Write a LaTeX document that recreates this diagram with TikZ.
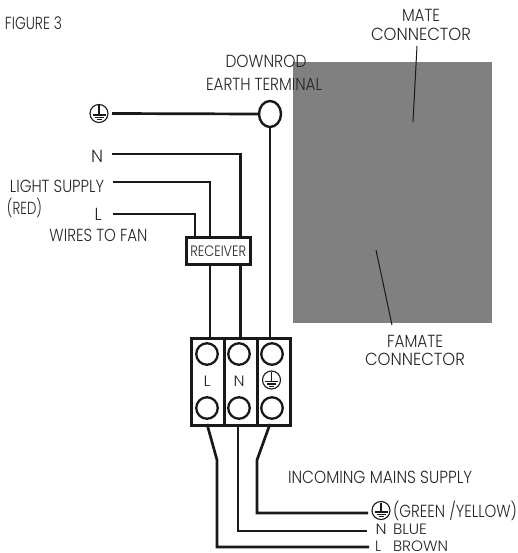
\documentclass[tikz,border=0pt]{standalone}
\usepackage{graphicx}
\usepackage{fontspec}
\usetikzlibrary{shapes.geometric}
\setmainfont{Poppins}[UprightFont=* Light]
\newcommand{\fw}[2]{\resizebox{#1pt}{\height}{#2}}
\tikzset{
  lbl/.style={inner sep=0pt,text=black!85,font=\fontsize{17.5}{18}\selectfont},
  lblsm/.style={inner sep=0pt,text=black!85,font=\fontsize{15}{16}\selectfont},
  wire/.style={line width=2.7pt,black!90,line join=miter},
  leader/.style={line width=1pt,black!90},
  termbox/.style={draw=black!90,line width=2.6pt,inner sep=0pt,anchor=north west},
  screw/.style={circle,draw=black!90,line width=2.3pt,minimum size=21.5pt,inner sep=0pt},
  earthsym/.style={circle,draw=black!90,line width=1.1pt,minimum size=18pt,inner sep=0pt,
    path picture={
      \coordinate (ec) at (path picture bounding box.center);
      \draw[line width=1.1pt,black!90] ([shift={(0,-8)}]ec) -- ([shift={(0,2)}]ec);
      \draw[line width=1.2pt,black!90] ([shift={(-6.5,1.5)}]ec) -- ([shift={(6.5,1.5)}]ec);
      \draw[line width=1.2pt,black!90] ([shift={(-4.5,4)}]ec) -- ([shift={(4.5,4)}]ec);
      \draw[line width=1.2pt,black!90] ([shift={(-2.5,6.3)}]ec) -- ([shift={(2.5,6.3)}]ec);
    }},
}
\begin{document}
\begin{tikzpicture}[x=1pt,y=-1pt]
\useasboundingbox (0,0) rectangle (518,553);
% grey panel
\fill[fill=black!50] (293,62) rectangle (492,323);
% leaders
\coordinate (mateA) at (417,46);
\coordinate (mateB) at (413,122);
\coordinate (famA) at (376,250);
\coordinate (famB) at (392,325);
\draw[leader] (mateA) -- (mateB);
\draw[leader] (famA) -- (famB);
% texts
\node[lbl] (fig) at (33.5,23) {\fw{57}{FIGURE 3}};
\node[lbl] (mate) at (421,15) {\fw{38}{MATE}};
\node[lbl] (mateb) at (421,34) {\fw{100}{CONNECTOR}};
\node[lbl] (fam) at (415,341) {\fw{56}{FAMATE}};
\node[lbl] (famb) at (415,359) {\fw{100}{CONNECTOR}};
\node[lbl] (down) at (266,61.5) {\fw{81}{DOWNROD}};
\node[lbl] (earth) at (264,84.5) {\fw{116}{EARTH TERMINAL}};
\node[lbl] (nt) at (97,156.5) {\fw{12}{N}};
\node[lbl] (ls) at (57,186) {\fw{94}{LIGHT SUPPLY}};
\node[lbl] (red) at (24.5,208) {\fw{35}{(RED)}};
\node[lbl] (lt) at (98,214) {\fw{7}{L}};
\node[lbl] (wf) at (98.5,235.5) {\fw{98}{WIRES TO FAN}};
\node[lbl] (inc) at (380,477) {\fw{184}{INCOMING MAINS SUPPLY}};
\node[lbl] (gy) at (455,511) {\fw{124}{(GREEN /YELLOW)}};
\node[lblsm] (nb) at (381,529.5) {\fw{11}{N}};
\node[lblsm] (blue) at (410,529.5) {\fw{34}{BLUE}};
\node[lblsm] (lb) at (378,546.5) {\fw{6}{L}};
\node[lblsm] (brown) at (420.5,546.5) {\fw{55}{BROWN}};
% earth terminal
\node[earthsym] (e1) at (99,113.5) {};
\node[draw=black!90,line width=2.4pt,ellipse,minimum width=22pt,minimum height=26pt,inner sep=0pt] (dt) at (270,114) {};
% receiver
\node[termbox,minimum width=64pt,minimum height=27pt] (rx) at (185,236) {};
\node[lblsm] (rxt) at (rx.center) {\fw{56}{RECEIVER}};
% terminal block
\node[termbox,minimum width=33pt,minimum height=87pt] (b1) at (190,337) {};
\node[termbox,minimum width=33pt,minimum height=87pt] (b2) at (223,337) {};
\node[termbox,minimum width=33pt,minimum height=87pt] (b3) at (256,337) {};
\node[screw] (t1) at (207,354) {};
\node[screw] (t2) at (239,354) {};
\node[screw] (t3) at (272,354) {};
\node[screw] (u1) at (207,408) {};
\node[screw] (u2) at (239,408) {};
\node[screw] (u3) at (272,408) {};
\node[lblsm] (tl) at (207,381) {\fw{7}{L}};
\node[lblsm] (tn) at (239,381) {\fw{11}{N}};
\node[earthsym] (te) at (271.5,380) {};
\node[earthsym] (e2) at (381,510.5) {};
% wires upper
\coordinate (wE) at (112,113.5);
\coordinate (wN) at (112,154);
\coordinate (wS) at (113,182);
\coordinate (wL) at (113,214);
\draw[wire] (wE) -- (dt.west);
\draw[wire] (wN) -| (240.5,236) coordinate (rxN);
\draw[wire] (wS) -| (210,236) coordinate (rxS);
\draw[wire] (wL) -| (195,236) coordinate (rxL);
\draw[wire] (210,263) coordinate (rxA) -- (210,337) coordinate (bA);
\draw[wire] (240.5,263) coordinate (rxB) -- (240.5,337) coordinate (bB);
\draw[wire] (dt.south) -- (dt.south |- b3.north);
% wires lower
\coordinate (oE) at (368,513);
\coordinate (oN) at (367,531);
\coordinate (oL) at (369,547);
\draw[wire] (207,424) -- (217,460) -- (217,547) -- (oL);
\draw[wire] (238,424) -- (238,531) -- (oN);
\draw[wire] (270,424) -- (257,460) -- (257,513) -- (oE);
\end{tikzpicture}
\end{document}
